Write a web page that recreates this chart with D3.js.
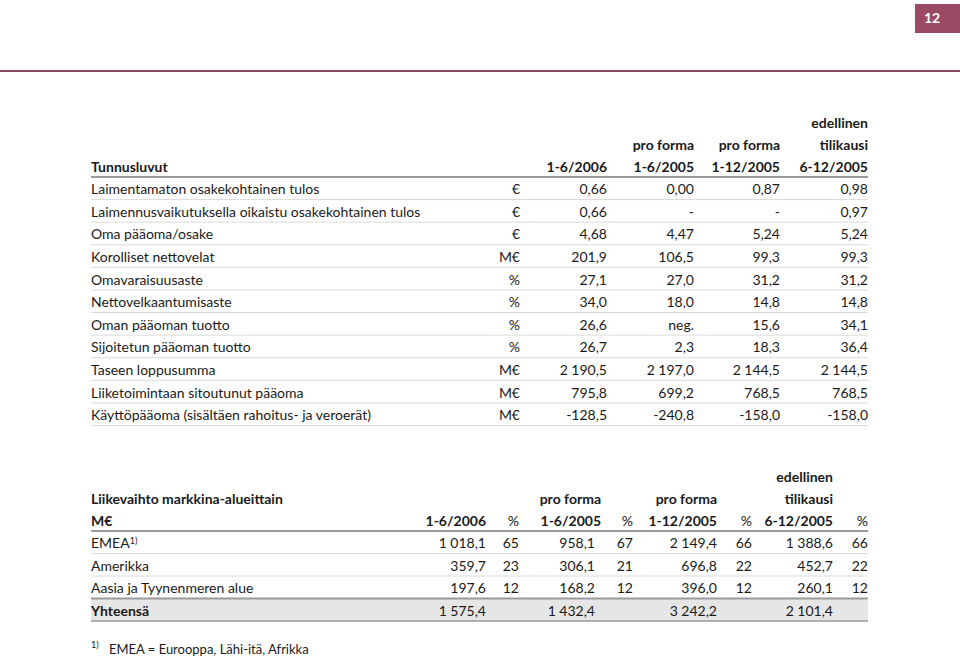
<!DOCTYPE html>
<html><head><meta charset="utf-8">
<script src="https://cdn.jsdelivr.net/npm/d3@7"></script>
<style>
html,body{margin:0;padding:0;background:#fff;}
svg text{font-family:Lato,"Noto Sans",sans-serif;fill:#1a1a1a;}
</style></head>
<body><svg id="c" width="960" height="660"></svg>
<script>
// ---------- Data ----------
const pageNumber = "12";

const t1Title = "Tunnusluvut";
const t1HeadLine1 = ["", "", "", "edellinen"];
const t1HeadLine2 = ["", "pro forma", "pro forma", "tilikausi"];
const t1Periods = ["1-6/2006", "1-6/2005", "1-12/2005", "6-12/2005"];
const t1Labels = [
  "Laimentamaton osakekohtainen tulos",
  "Laimennusvaikutuksella oikaistu osakekohtainen tulos",
  "Oma pääoma/osake",
  "Korolliset nettovelat",
  "Omavaraisuusaste",
  "Nettovelkaantumisaste",
  "Oman pääoman tuotto",
  "Sijoitetun pääoman tuotto",
  "Taseen loppusumma",
  "Liiketoimintaan sitoutunut pääoma",
  "Käyttöpääoma (sisältäen rahoitus- ja veroerät)"
];
const t1Units = ["€", "€", "€", "M€", "%", "%", "%", "%", "M€", "M€", "M€"];
const t1Col2006H1 = ["0,66", "0,66", "4,68", "201,9", "27,1", "34,0", "26,6", "26,7", "2 190,5", "795,8", "-128,5"];
const t1Col2005H1 = ["0,00", "-", "4,47", "106,5", "27,0", "18,0", "neg.", "2,3", "2 197,0", "699,2", "-240,8"];
const t1Col2005FY = ["0,87", "-", "5,24", "99,3", "31,2", "14,8", "15,6", "18,3", "2 144,5", "768,5", "-158,0"];
const t1Col2005H2 = ["0,98", "0,97", "5,24", "99,3", "31,2", "14,8", "34,1", "36,4", "2 144,5", "768,5", "-158,0"];

const t2Title = "Liikevaihto markkina-alueittain";
const t2Unit = "M€";
const t2HeadLine1 = ["", "", "", "edellinen"];
const t2HeadLine2 = ["", "pro forma", "pro forma", "tilikausi"];
const t2Periods = ["1-6/2006", "1-6/2005", "1-12/2005", "6-12/2005"];
const t2Regions = ["EMEA", "Amerikka", "Aasia ja Tyynenmeren alue"];
const t2RegionNotes = ["1)", "", ""];
const t2Sales2006H1 = ["1 018,1", "359,7", "197,6"];
const t2Pct2006H1 = ["65", "23", "12"];
const t2Sales2005H1 = ["958,1", "306,1", "168,2"];
const t2Pct2005H1 = ["67", "21", "12"];
const t2Sales2005FY = ["2 149,4", "696,8", "396,0"];
const t2Pct2005FY = ["66", "22", "12"];
const t2Sales2005H2 = ["1 388,6", "452,7", "260,1"];
const t2Pct2005H2 = ["66", "22", "12"];
const t2TotalLabel = "Yhteensä";
const t2Totals = ["1 575,4", "1 432,4", "3 242,2", "2 101,4"];

const footNoteMark = "1)";
const footNoteText = "EMEA = Eurooppa, Lähi-itä, Afrikka";

// ---------- Drawing ----------
const svg = d3.select("#c");
const X0 = 91, X1 = 868;

// page decoration
svg.append("rect").attr("x", 915).attr("y", 4).attr("width", 45).attr("height", 29).attr("fill", "#9a4b63");
svg.append("text").attr("x", 932).attr("y", 18.5).attr("dy", "0.35em").attr("text-anchor", "middle")
  .style("font-weight", "bold").style("font-size", "14px").style("fill", "#fff").text(pageNumber);
svg.append("line").attr("x1", 0).attr("x2", 960).attr("y1", 71).attr("y2", 71)
  .attr("stroke", "#8c4a60").attr("stroke-width", 2);

function txt(x, y, s, anchor, bold, size) {
  return svg.append("text").attr("x", x).attr("y", y).attr("dy", "0.35em")
    .attr("text-anchor", anchor || "start")
    .style("font-weight", bold ? "bold" : "normal")
    .style("font-size", (size || 14) + "px").text(s);
}

// ---------- Table 1 ----------
const t1Rows = d3.scaleLinear().domain([0, t1Labels.length]).range([177, 425.5]);
const t1HeadY = d3.scaleLinear().domain([0, 2]).range([123, 167]);
const t1ColX = d3.scaleOrdinal().domain(["unit", ...t1Periods]).range([520, 607, 694, 780, 868]);
const t1Cols = [t1Col2006H1, t1Col2005H1, t1Col2005FY, t1Col2005H2];

txt(X0, t1HeadY(2), t1Title, "start", true);
t1Periods.forEach((p, i) => {
  const x = t1ColX(p);
  if (t1HeadLine1[i]) txt(x, t1HeadY(0), t1HeadLine1[i], "end", true);
  if (t1HeadLine2[i]) txt(x, t1HeadY(1), t1HeadLine2[i], "end", true);
  txt(x, t1HeadY(2), p, "end", true);
});

// row separators
d3.range(1, t1Labels.length + 1).forEach(i => {
  svg.append("line").attr("x1", X0).attr("x2", X1).attr("y1", t1Rows(i)).attr("y2", t1Rows(i))
    .attr("stroke", "#dadada").attr("stroke-width", 1);
});
svg.append("line").attr("x1", X0).attr("x2", X1).attr("y1", t1Rows(0)).attr("y2", t1Rows(0))
  .attr("stroke", "#9a9a9a").attr("stroke-width", 2);

t1Labels.forEach((lab, i) => {
  const y = (t1Rows(i) + t1Rows(i + 1)) / 2 + 1;
  txt(X0, y, lab);
  txt(t1ColX("unit"), y, t1Units[i], "end");
  t1Cols.forEach((col, c) => txt(t1ColX(t1Periods[c]), y, col[i], "end"));
});

// ---------- Table 2 ----------
const t2Rows = d3.scaleLinear().domain([0, t2Regions.length + 1]).range([531, 621]);
const t2HeadY = d3.scaleLinear().domain([0, 2]).range([477, 521]);
const t2ValX = d3.scaleOrdinal().domain(t2Periods).range([486, 595, 717, 833]);
const t2HeadX = d3.scaleOrdinal().domain(t2Periods).range([486, 601, 717, 833]);
const t2PctX = d3.scaleOrdinal().domain(t2Periods).range([519, 633, 752, 868]);
const t2Sales = [t2Sales2006H1, t2Sales2005H1, t2Sales2005FY, t2Sales2005H2];
const t2Pcts = [t2Pct2006H1, t2Pct2005H1, t2Pct2005FY, t2Pct2005H2];

// total row shading
const nR = t2Regions.length;
svg.append("rect").attr("x", X0).attr("width", X1 - X0)
  .attr("y", t2Rows(nR)).attr("height", t2Rows(nR + 1) - t2Rows(nR)).attr("fill", "#e6e6e6");

txt(X0, t2HeadY(1), t2Title, "start", true);
txt(X0, t2HeadY(2), t2Unit, "start", true);
t2Periods.forEach((p, i) => {
  if (t2HeadLine1[i]) txt(t2HeadX(p), t2HeadY(0), t2HeadLine1[i], "end", true);
  if (t2HeadLine2[i]) txt(t2HeadX(p), t2HeadY(1), t2HeadLine2[i], "end", true);
  txt(t2HeadX(p), t2HeadY(2), p, "end", true);
  txt(t2PctX(p), t2HeadY(2), "%", "end", false);
});

d3.range(1, nR).forEach(i => {
  svg.append("line").attr("x1", X0).attr("x2", X1).attr("y1", t2Rows(i)).attr("y2", t2Rows(i))
    .attr("stroke", "#dadada").attr("stroke-width", 1);
});
[0, nR].forEach(i => {
  svg.append("line").attr("x1", X0).attr("x2", X1).attr("y1", t2Rows(i)).attr("y2", t2Rows(i))
    .attr("stroke", "#9a9a9a").attr("stroke-width", 2);
});
svg.append("line").attr("x1", X0).attr("x2", X1).attr("y1", t2Rows(nR + 1)).attr("y2", t2Rows(nR + 1))
  .attr("stroke", "#9a9a9a").attr("stroke-width", 1.5);

t2Regions.forEach((r, i) => {
  const y = (t2Rows(i) + t2Rows(i + 1)) / 2 + 1;
  const t = txt(X0, y, r);
  if (t2RegionNotes[i]) {
    t.append("tspan").attr("dy", "-0.45em").style("font-size", "9px").text(t2RegionNotes[i]);
  }
  t2Periods.forEach((p, c) => {
    txt(t2ValX(p), y, t2Sales[c][i], "end");
    txt(t2PctX(p), y, t2Pcts[c][i], "end");
  });
});
{
  const y = (t2Rows(nR) + t2Rows(nR + 1)) / 2 + 1;
  txt(X0, y, t2TotalLabel, "start", true);
  t2Periods.forEach((p, c) => txt(t2ValX(p), y, t2Totals[c], "end"));
}

// footnote
txt(X0, 645, footNoteMark, "start", false, 9);
txt(109, 649, footNoteText, "start", false, 13);
</script></body></html>
